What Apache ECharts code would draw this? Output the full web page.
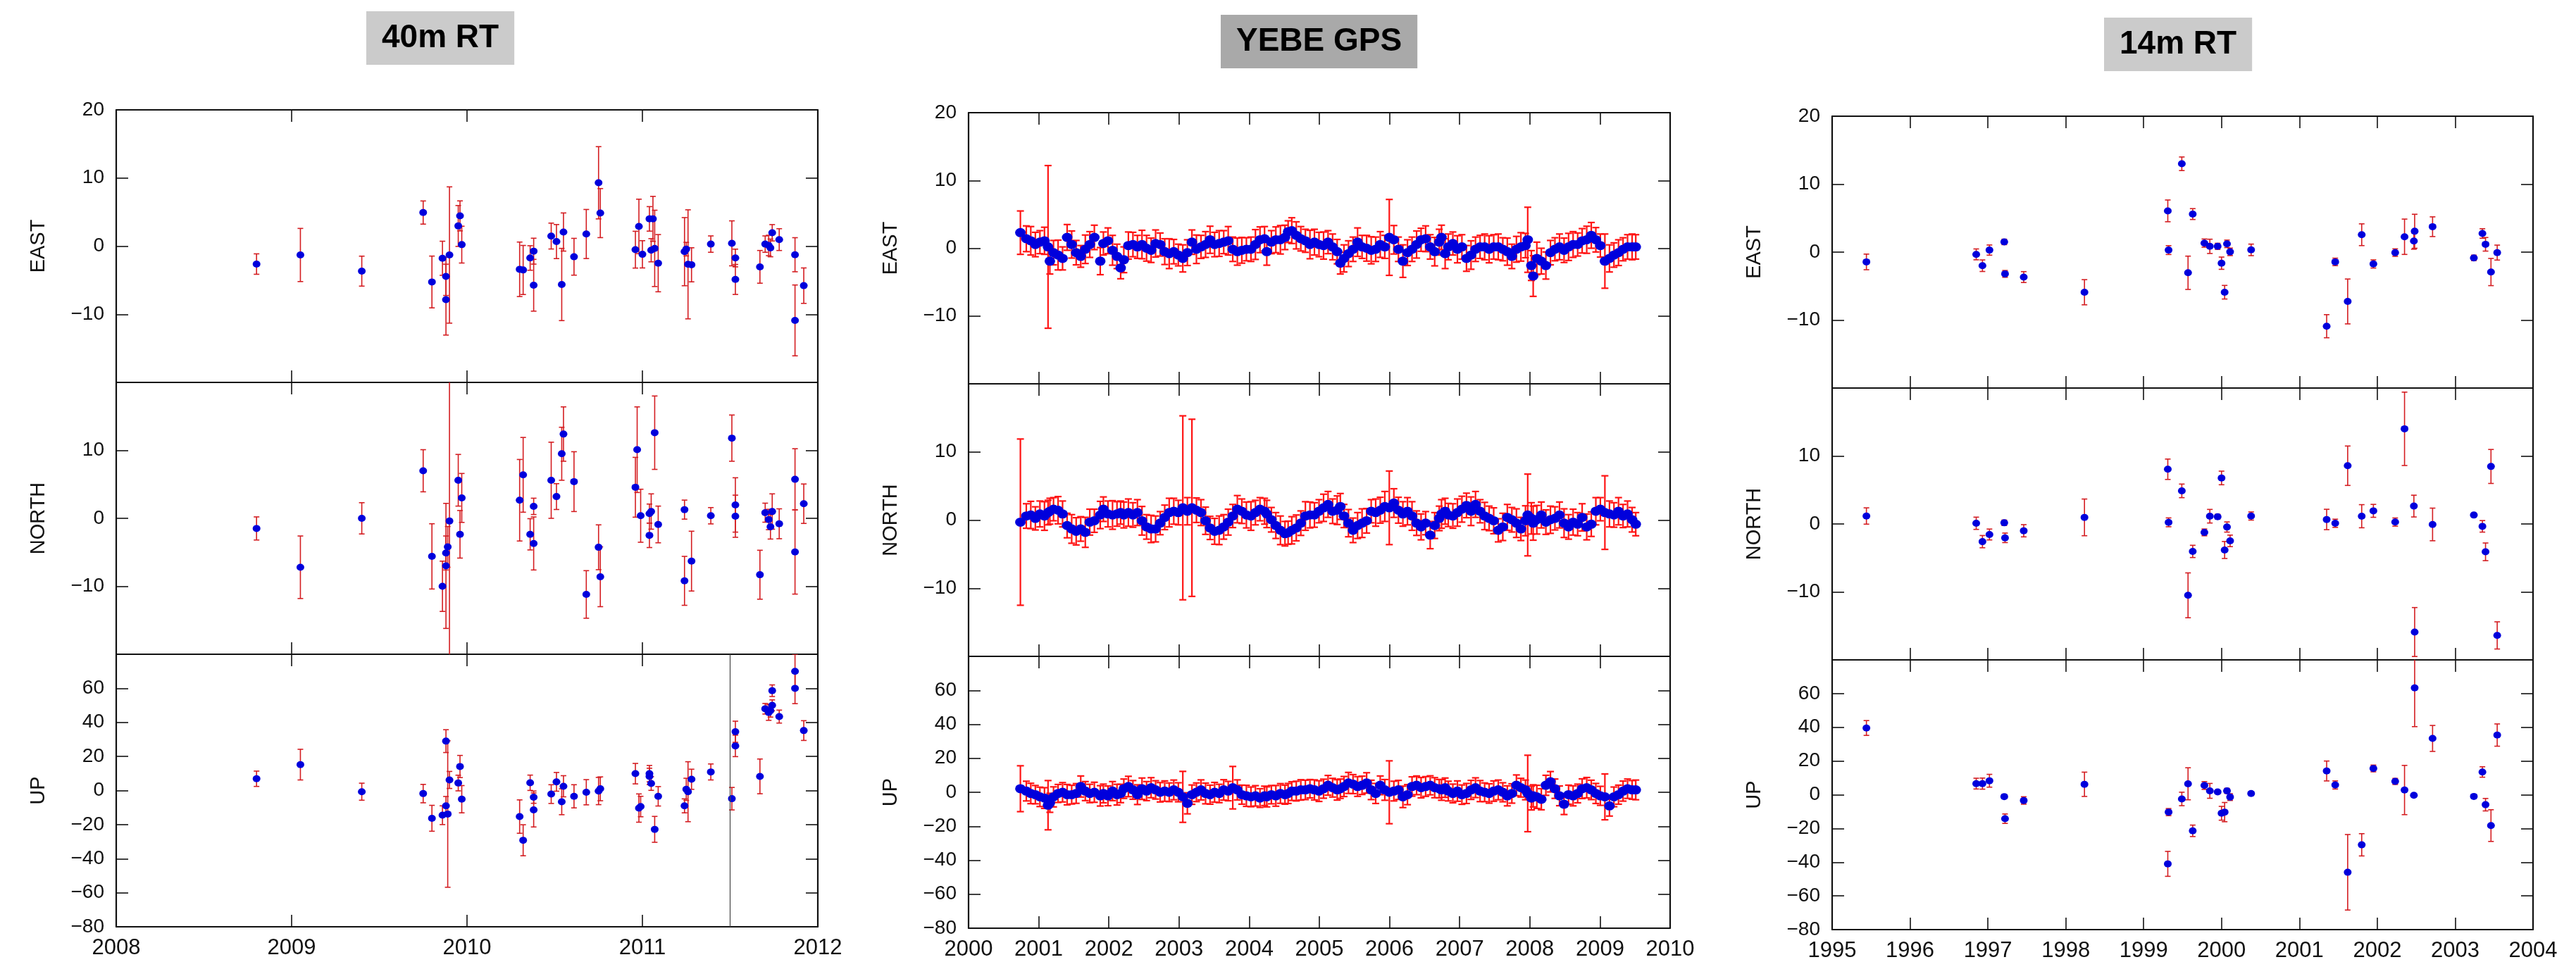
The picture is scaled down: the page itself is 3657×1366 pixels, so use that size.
<!DOCTYPE html>
<html><head><meta charset="utf-8">
<script src="https://cdn.jsdelivr.net/npm/echarts@6.0.0/dist/echarts.min.js"></script>
<style>html,body{margin:0;padding:0;background:#fff}#c{width:3657px;height:1366px}</style>
</head><body><div id="c"></div>
<script>
// ---------------- DATA ----------------
// Column titles
const columnTitles = ['40m RT', 'YEBE GPS', '14m RT'];
const componentNames = ['EAST', 'NORTH', 'UP'];
// x-axis ranges (years)
const rt40Years = [2008, 2012];
const gpsYears = [2000, 2010];
const rt14Years = [1995, 2004];
// y-axis ranges
const horizRange = [-20, 20, 10];
const upRange = [-80, 80, 20];
const rt40UpMarkerYear = 2011.5;

// 40m RT: [year, value, error]
const rt40East = [
[2008.80,-2.63,1.5],[2009.05,-1.3,3.9],[2009.40,-3.67,2.2],[2009.75,4.93,1.7],[2009.80,-5.26,3.8],
[2009.86,-1.78,2.5],[2009.88,-4.44,2.8],[2009.88,-7.85,5.2],[2009.90,-1.3,10],[2009.95,2.96,3],
[2009.96,4.44,2.2],[2009.97,0.22,2.7],[2010.30,-3.4,4],[2010.32,-3.5,3.6],[2010.36,-1.74,1.8],
[2010.38,-5.74,3.8],[2010.38,-0.74,1.9],[2010.48,1.48,1.9],[2010.51,0.67,2.5],[2010.54,-5.63,5.3],
[2010.55,2.07,2.8],[2010.61,-1.56,2.7],[2010.68,1.78,3.6],[2010.75,9.3,5.3],[2010.76,4.85,3.6],
[2010.96,-0.52,2.7],[2010.98,2.89,4],[2011.00,-1.2,2],[2011.04,4.0,1.8],[2011.06,4.0,3.3],
[2011.05,-0.6,1.7],[2011.07,-0.33,5.6],[2011.09,-2.5,4.2],[2011.24,-0.81,5],[2011.25,-0.44,1],
[2011.26,-2.67,8],[2011.28,-2.74,2.5],[2011.39,0.3,1.2],[2011.51,0.41,3.3],[2011.53,-1.74,1.3],
[2011.53,-4.89,2.2],[2011.67,-3.04,2.4],[2011.70,0.3,1.2],[2011.72,0.1,1.5],[2011.73,-0.26,1.3],
[2011.74,1.96,1.2],[2011.78,0.96,1.6],[2011.87,-1.26,2.5],[2011.87,-10.9,5.2],[2011.92,-5.8,2.6]
];
const rt40North = [
[2008.80,-1.49,1.7],[2009.05,-7.2,4.6],[2009.40,0,2.3],[2009.75,7.0,3.1],[2009.80,-5.6,4.8],
[2009.86,-10.0,3.7],[2009.88,-5.1,2.5],[2009.88,-7.0,9.2],[2009.89,-4.2,3],[2009.90,-0.4,25],
[2009.95,5.6,3.8],[2009.96,-2.35,3.5],[2009.97,3.0,3.6],[2010.30,2.66,6],[2010.32,6.4,5.5],
[2010.36,-2.35,2.3],[2010.38,-3.7,3.9],[2010.38,1.76,1.2],[2010.48,5.6,5.6],[2010.51,3.2,1.9],
[2010.54,9.5,3.9],[2010.55,12.4,4],[2010.61,5.4,4.4],[2010.68,-11.2,3.5],[2010.75,-4.26,3.3],
[2010.76,-8.6,4.4],[2010.96,4.57,4.4],[2010.97,10.1,6.3],[2010.99,0.38,3.9],[2011.04,0.7,1.4],
[2011.04,-2.5,1.8],[2011.05,1.0,2.6],[2011.07,12.6,5.4],[2011.09,-0.9,2.7],[2011.24,1.28,1.4],
[2011.24,-9.2,3.6],[2011.28,-6.3,4.4],[2011.39,0.38,1.2],[2011.51,11.8,3.4],[2011.53,1.97,4],
[2011.53,0.31,3.1],[2011.67,-8.3,3.6],[2011.70,0.83,1.4],[2011.72,-0.17,1.5],[2011.73,-1.25,1.8],
[2011.74,1.0,2.6],[2011.78,-0.8,2.2],[2011.87,5.74,4.5],[2011.87,-4.95,6.2],[2011.92,2.15,2.9]
];
const rt40Up = [
[2008.80,6.9,4.5],[2009.05,15.2,9],[2009.40,-0.7,5],[2009.75,-1.8,5.4],[2009.80,-16.3,7.6],
[2009.86,-14.5,5.5],[2009.88,-9.0,5.5],[2009.88,29,6.7],[2009.89,-13.8,43],[2009.90,6.2,5],
[2009.95,4.4,4.6],[2009.96,14.1,6.5],[2009.97,-5.1,8],[2010.30,-15.3,9.8],[2010.32,-29.2,9.1],
[2010.36,4.55,4.5],[2010.38,-3.9,3.6],[2010.38,-11.4,10],[2010.48,-2.1,5.5],[2010.51,5.1,5.5],
[2010.54,-6.6,7.6],[2010.55,2.5,6.2],[2010.61,-3.4,6.8],[2010.68,-1.0,7.4],[2010.75,-0.3,8],
[2010.76,1.0,7],[2010.96,9.9,6],[2010.98,-10.3,8.3],[2010.99,-9.4,6],[2011.04,9.9,4.8],
[2011.04,8.3,4.8],[2011.05,4.1,4],[2011.07,-22.8,7.6],[2011.09,-3.4,5.7],[2011.24,-9.0,4.1],
[2011.25,0.7,6.5],[2011.26,-0.7,17.6],[2011.28,6.6,5.9],[2011.39,10.9,4.7],[2011.51,-4.8,6.6],
[2011.53,26.2,6.3],[2011.53,34.5,6.2],[2011.67,8.3,10.2],[2011.70,48,3.1],[2011.72,45.8,4.6],
[2011.73,46.9,3.8],[2011.74,58.6,3.4],[2011.74,50,3.2],[2011.78,43.4,3.8],[2011.87,70,10],
[2011.87,60,9],[2011.92,35.2,5.8]
];

// YEBE GPS: shared epochs, values and errors per component
const gpsT = [
2000.739,2000.823,2000.887,2000.952,2001.017,2001.082,2001.133,2001.159,2001.211,2001.276,
2001.340,2001.405,2001.470,2001.534,2001.599,2001.664,2001.728,2001.793,2001.877,2001.922,
2001.987,2002.052,2002.116,2002.168,2002.213,2002.278,2002.343,2002.407,2002.472,2002.537,
2002.602,2002.666,2002.731,2002.796,2002.860,2002.925,2002.990,2003.054,2003.119,2003.184,
2003.248,2003.313,2003.378,2003.442,2003.507,2003.572,2003.637,2003.701,2003.766,2003.831,
2003.895,2003.960,2004.025,2004.089,2004.154,2004.219,2004.251,2004.316,2004.380,2004.445,
2004.510,2004.555,2004.607,2004.671,2004.736,2004.801,2004.866,2004.930,2004.995,2005.060,
2005.124,2005.189,2005.254,2005.299,2005.351,2005.415,2005.480,2005.545,2005.609,2005.674,
2005.739,2005.803,2005.868,2005.933,2005.997,2006.062,2006.127,2006.191,2006.256,2006.321,
2006.386,2006.450,2006.515,2006.580,2006.644,2006.709,2006.741,2006.793,2006.838,2006.903,
2006.968,2007.032,2007.097,2007.162,2007.226,2007.291,2007.356,2007.420,2007.485,2007.550,
2007.615,2007.679,2007.744,2007.809,2007.873,2007.938,2007.970,2008.022,2008.048,2008.100,
2008.164,2008.229,2008.294,2008.358,2008.423,2008.488,2008.552,2008.617,2008.682,2008.746,
2008.811,2008.876,2008.941,2009.005,2009.070,2009.135,2009.199,2009.264,2009.329,2009.393,
2009.458,2009.510
];
const gpsEast = [
2.3,1.4,1.1,0.55,0.9,1.1,0.2,-1.9,-0.65,-1.0,
-1.5,1.6,0.55,-0.65,-1.2,-0.15,0.55,1.6,-1.9,0.7,
1.1,-0.3,-1.2,-2.9,-1.7,0.4,0.55,0.2,0.55,0,
-0.3,0.7,0.55,-0.5,-0.8,-0.5,-1.0,-1.5,-0.65,0.9,
-0.15,0.2,0.55,1.25,0.55,0.7,0.9,1.1,-0.15,-0.5,
-0.3,-0.15,-0.15,0.55,1.25,1.4,-0.5,0.9,1.25,1.25,
1.6,2.45,2.6,1.9,1.4,1.1,0.55,0.9,0.55,0.4,
0.9,0.2,-0.5,-2.2,-1.5,-0.8,-0.15,0.9,0.2,0,
-0.3,-0.15,0.55,0.2,1.6,1.25,-0.15,-1.9,-0.65,-0.15,
0.55,1.25,1.4,0.2,-0.5,0.9,1.6,-0.8,0.2,0.7,
-0.15,0.2,-1.5,-1.0,-0.15,0.2,0.2,-0.15,0.2,0.2,
-0.15,-0.5,-1.2,-0.15,0.2,0.4,1.25,-2.55,-4.1,-1.5,
-1.9,-2.55,-0.65,-0.15,0.2,-0.3,0.2,0.55,0.55,1.1,
1.25,1.9,1.25,0.4,-1.9,-1.5,-1.0,-0.65,-0.15,0.2,
0.2,0.2
];
const gpsNorth = [
-0.3,0.6,0.75,0.25,0.9,0.6,1.1,1.3,1.6,1.45,
0.9,-0.8,-1.3,-1.65,-1.3,-1.8,-0.3,-0.1,0.75,1.6,
0.9,0.75,0.9,1.1,0.75,1.1,0.75,1.1,-0.1,-1.0,
-1.3,-1.3,-0.45,0.4,1.1,1.3,1.1,1.8,1.3,1.8,
1.45,1.1,-0.1,-1.15,-1.65,-1.5,-1.0,-0.3,0.6,1.6,
1.3,0.75,0.6,1.1,1.6,1.3,0.9,0.05,-0.8,-1.5,
-2.0,-1.85,-1.5,-1.15,-0.45,0.6,0.75,0.75,1.3,1.8,
2.3,1.3,1.45,2.0,0.6,-0.45,-1.5,-0.8,-0.45,-0.1,
1.3,1.1,1.45,2.0,1.8,2.5,1.45,0.9,1.3,0.6,
-0.45,-1.0,-0.45,-2.2,-0.8,0.25,0.9,1.3,0.75,0.6,
1.1,1.6,2.15,1.3,2.3,1.3,0.6,0.25,-0.1,-1.5,
-1.0,0.4,0.05,-0.45,-1.3,-0.1,0.75,0.25,-0.45,0.05,
0.75,-0.3,0.05,0.25,0.75,-0.45,-1.0,-0.3,-0.6,0.4,
-1.0,-0.6,1.3,1.6,1.1,0.9,0.75,1.3,0.6,0.9,
0.05,-0.6
];
const gpsUp = [
2.1,0.7,-0.7,-1.4,-2.7,-3.4,-7.6,-6.2,-2.7,-0.7,
0,-1.4,-1.4,-0.7,3.4,0.7,-0.7,0,-2.1,-0.7,
-2.1,0.7,-1.4,-0.7,2.1,3.4,1.4,-1.4,2.1,0.7,
2.7,1.4,0,0.7,0,1.4,0,-2.7,-6.5,-1.4,
0,1.4,-0.7,-1.4,0,-0.7,1.4,0.7,2.7,1.4,
-1.4,-2.1,-2.7,-2.1,-3.4,-2.1,-2.7,-1.4,-2.1,-0.7,
-1.4,-0.7,0.7,0.7,1.4,1.4,2.1,1.4,0.7,2.1,
4.1,2.7,1.4,2.1,3.4,5.5,4.8,3.4,4.1,5.5,
1.4,-0.7,4.1,1.4,0,0.7,1.4,-2.7,-1.4,3.4,
4.1,2.7,3.4,4.1,2.7,2.1,1.4,2.7,0.7,-0.7,
0.7,-1.4,-0.7,1.4,2.7,0.7,0,-0.7,0.7,1.4,
0,-2.1,-0.7,4.1,2.7,1.4,-0.7,-3.4,-2.1,-2.7,
-4.1,4.1,6.2,2.1,-2.1,-7,-1.4,-2.1,-0.7,2.1,
2.7,1.4,-0.7,-2.1,-2.7,-8,-2.7,-1.4,0.7,2.1,
1.4,1.4
];
const gpsEastErr = [
3.2,1.9,2.1,1.8,1.7,2.0,12,1.9,1.8,2.2,
1.7,1.9,2.0,1.8,1.6,2.1,1.9,1.8,2.0,1.7,
1.9,2.2,1.8,1.6,1.9,2.0,1.8,1.7,2.1,1.9,
1.8,2.0,1.7,1.9,2.2,1.8,1.6,2.0,1.9,1.8,
2.1,1.7,1.9,2.0,1.8,1.9,1.7,2.1,1.8,2.0,
1.9,1.7,1.8,2.2,1.9,1.8,2.0,1.7,1.9,2.1,
1.8,1.6,1.9,2.0,1.8,1.7,2.1,1.9,1.8,2.0,
1.7,1.9,1.8,1.6,2.0,1.9,1.8,2.1,1.7,1.9,
2.0,1.8,1.9,1.7,5.6,2.1,1.8,2.4,1.9,1.8,
2.0,1.7,1.9,1.8,2.1,1.9,1.8,2.2,1.9,1.7,
2.0,1.8,1.9,2.1,1.8,1.7,1.9,2.0,1.8,1.9,
1.7,2.0,1.8,1.9,2.1,1.8,4.8,2.2,3.0,2.4,
1.9,2.0,1.8,1.7,1.9,1.8,2.0,1.9,1.7,1.8,
2.0,1.9,1.8,1.7,4.0,2.0,1.8,1.9,1.7,1.8,
1.9,1.8
];
const gpsNorthErr = [
12.2,1.8,2.0,1.7,1.9,2.1,1.8,1.9,1.7,2.0,
1.9,1.8,2.1,2.0,1.8,2.2,1.9,1.7,2.0,1.8,
1.9,2.1,1.8,1.7,1.9,2.0,1.8,1.9,2.1,1.8,
2.0,1.9,1.7,1.8,2.1,1.9,1.8,13.5,2.0,13.0,
1.8,1.9,2.0,1.7,1.9,2.1,1.8,1.9,1.7,2.0,
1.8,1.9,2.1,1.8,1.7,1.9,2.0,1.8,1.9,2.1,
1.8,1.7,2.0,1.9,1.8,2.1,1.9,1.8,1.7,2.0,
1.9,1.8,2.1,1.9,1.7,2.0,1.8,1.9,2.1,1.8,
1.7,2.0,1.9,2.2,5.4,2.1,1.9,1.8,2.0,2.1,
1.8,1.9,1.7,2.0,1.9,1.8,2.1,1.9,1.7,1.8,
2.0,1.9,1.8,2.1,1.9,1.7,2.0,1.8,1.9,1.7,
2.0,1.9,1.8,2.1,1.7,2.2,6.0,2.3,2.5,2.1,
1.9,1.8,2.0,1.7,1.9,2.1,1.8,1.9,1.7,2.0,
1.9,1.8,2.0,1.7,5.4,1.9,1.8,2.0,1.7,1.9,
1.8,1.7
];
const gpsUpErr = [
13.5,5.8,6.0,5.4,5.7,6.1,14.5,5.6,5.9,5.3,
5.7,6.0,5.5,5.8,6.2,5.6,5.4,5.9,6.0,5.5,
5.8,5.6,6.1,5.4,5.7,6.0,5.5,5.8,6.3,5.6,
5.9,5.4,5.7,6.0,5.5,5.8,5.6,15.0,6.2,5.7,
5.5,5.9,6.1,5.6,5.8,5.4,6.0,5.7,12.5,5.9,
5.6,6.2,5.8,6.0,5.5,5.7,5.9,5.4,6.1,5.8,
5.6,5.9,5.5,5.8,6.0,5.7,5.4,5.9,6.1,5.6,
5.8,5.5,6.0,5.7,5.9,6.2,5.6,5.8,5.4,6.0,
5.7,5.9,5.5,6.1,18.5,5.8,5.6,6.3,5.9,5.7,
5.5,6.0,5.8,5.6,5.9,5.4,6.1,5.7,5.8,5.5,
6.0,5.7,5.9,5.6,5.8,6.2,5.5,5.7,6.0,5.8,
5.6,5.9,5.7,6.1,5.5,5.8,22.5,7.0,6.5,6.8,
6.2,5.9,6.0,5.7,5.8,6.1,5.6,5.9,5.5,5.8,
6.0,5.7,5.9,5.6,13.5,6.0,5.8,5.6,5.9,5.7,
5.5,5.8
];

// 14m RT: [year, value, error]
const rt14East = [
[1995.44,-1.44,1.15],[1996.85,-0.33,0.8],[1996.93,-2.0,0.85],[1997.02,0.3,0.75],[1997.21,1.5,0.4],
[1997.22,-3.2,0.5],[1997.46,-3.67,0.8],[1998.24,-5.9,1.85],[1999.31,6.07,1.6],[1999.32,0.3,0.65],
[1999.49,13.0,1.0],[1999.57,-3.04,2.45],[1999.63,5.6,0.8],[1999.78,1.33,0.6],[1999.85,0.85,1.05],
[1999.95,0.85,0.45],[2000.00,-1.63,0.9],[2000.04,-5.9,1.0],[2000.07,1.22,0.55],[2000.11,0.04,0.55],
[2000.38,0.33,0.85],[2001.35,-10.9,1.7],[2001.46,-1.44,0.55],[2001.62,-7.26,3.3],[2001.80,2.56,1.6],
[2001.95,-1.74,0.6],[2002.23,-0.07,0.55],[2002.35,2.26,2.6],[2002.47,1.63,1.2],[2002.48,3.07,2.5],
[2002.71,3.74,1.45],[2003.24,-0.85,0.4],[2003.35,2.74,0.7],[2003.39,1.15,1.0],[2003.46,-2.93,2.0],
[2003.54,-0.07,1.1]
];
const rt14North = [
[1995.44,1.17,1.2],[1996.85,0.1,0.9],[1996.93,-2.6,0.9],[1997.02,-1.55,0.8],[1997.21,0.17,0.4],
[1997.22,-2.04,0.7],[1997.46,-1.0,0.9],[1998.24,0.97,2.7],[1999.31,8.05,1.5],[1999.32,0.24,0.65],
[1999.49,4.87,1.0],[1999.57,-10.5,3.3],[1999.63,-4.04,0.9],[1999.78,-1.24,0.5],[1999.85,1.14,1.0],
[1999.95,1.07,0.35],[2000.00,6.77,1.0],[2000.04,-3.83,1.25],[2000.07,-0.45,0.75],[2000.11,-2.49,0.85],
[2000.38,1.17,0.6],[2001.35,0.66,1.5],[2001.46,0.1,0.6],[2001.62,8.57,2.9],[2001.80,1.14,1.7],
[2001.95,1.93,0.95],[2002.23,0.28,0.6],[2002.35,14.0,5.4],[2002.47,2.63,1.6],[2002.48,-15.9,3.6],
[2002.71,-0.07,2.4],[2003.24,1.31,0.3],[2003.35,-0.35,0.85],[2003.39,-4.1,1.3],[2003.46,8.46,2.5],
[2003.54,-16.4,2.0]
];
const rt14Up = [
[1995.44,39.6,4.4],[1996.85,6.6,3.2],[1996.93,6.6,3.3],[1997.02,8.3,3.8],[1997.21,-1.1,1.2],
[1997.22,-14.2,2.8],[1997.46,-3.4,2.2],[1998.24,6.2,7.2],[1999.31,-41,7.4],[1999.32,-10.3,2.1],
[1999.49,-2.5,4],[1999.57,6.5,9.5],[1999.63,-21.4,3.4],[1999.78,5.5,2.3],[1999.85,2.3,4.4],
[1999.95,1.66,1.0],[2000.00,-11,4.1],[2000.04,-10.3,5.7],[2000.07,2.3,1.5],[2000.11,-1.4,2],
[2000.38,0.7,1],[2001.35,14.1,5.9],[2001.46,5.8,2.4],[2001.62,-46,22.4],[2001.80,-29.7,6.6],
[2001.95,15.6,2],[2002.23,7.9,1.8],[2002.35,2.8,14.6],[2002.47,-0.3,0.8],[2002.48,63.4,23],
[2002.71,33.4,7.7],[2003.24,-1.0,1],[2003.35,13.5,3.1],[2003.39,-5.9,3.7],[2003.46,-18.3,9.4],
[2003.54,35.4,6.6]
];

// ---------------- CHART ----------------
const FONT = '"Liberation Sans", Arial, Helvetica, sans-serif';
const grids = [], xAxes = [], yAxes = [], series = [];

function zipGps(vals, errs) { return gpsT.map((t, i) => [t, vals[i], errs[i]]); }

function makeErrRender(color, lw, cap) {
  return function (params, api) {
    const x = api.value(0), v = api.value(1), e = api.value(2);
    const a = api.coord([x, v + e]);
    const b = api.coord([x, v - e]);
    const st = { stroke: color, lineWidth: lw, fill: null };
    return {
      type: 'group',
      children: [
        { type: 'line', shape: { x1: a[0], y1: a[1], x2: b[0], y2: b[1] }, style: st },
        { type: 'line', shape: { x1: a[0] - cap, y1: a[1], x2: a[0] + cap, y2: a[1] }, style: st },
        { type: 'line', shape: { x1: b[0] - cap, y1: b[1], x2: b[0] + cap, y2: b[1] }, style: st }
      ]
    };
  };
}

function fmtY(v) { return String(v).replace('-', '\u2212'); }

function addPanel(o) {
  const gi = grids.length;
  grids.push({ left: o.left, top: o.top, width: o.width, height: o.height, show: false });
  const axisLine = { show: true, onZero: false, lineStyle: { color: '#111', width: 2.2 } };
  const tick = { show: true, inside: true, length: 17, lineStyle: { color: '#111', width: 1.6 } };
  const base = { type: 'value', gridIndex: gi, splitLine: { show: false }, axisLine: axisLine, axisTick: tick };
  xAxes.push(Object.assign({}, base, {
    position: 'bottom', min: o.xr[0], max: o.xr[1], interval: 1,
    axisLabel: o.xLabels ? { show: true, margin: 15, fontSize: 31, color: '#111', fontFamily: FONT, formatter: v => String(v) } : { show: false }
  }));
  xAxes.push(Object.assign({}, base, { position: 'top', min: o.xr[0], max: o.xr[1], interval: 1, axisLabel: { show: false } }));
  yAxes.push(Object.assign({}, base, {
    position: 'left', min: o.yr[0], max: o.yr[1], interval: o.yr[2],
    name: o.name, nameLocation: 'middle', nameGap: 96,
    nameTextStyle: { fontSize: 29, fontFamily: FONT, color: '#111' },
    axisLabel: { show: true, margin: 17, fontSize: 28, color: '#111', fontFamily: FONT,
      formatter: v => (o.hide.indexOf(v) >= 0 ? '' : fmtY(v)) }
  }));
  yAxes.push(Object.assign({}, base, { position: 'right', min: o.yr[0], max: o.yr[1], interval: o.yr[2], axisLabel: { show: false } }));

  series.push({
    type: 'custom', xAxisIndex: 2 * gi, yAxisIndex: 2 * gi, clip: true, silent: true,
    renderItem: makeErrRender(o.errColor, o.errWidth, o.cap),
    data: o.data, encode: { x: 0, y: 1 }, z: 2
  });
  const sc = {
    type: 'scatter', xAxisIndex: 2 * gi, yAxisIndex: 2 * gi, clip: true, silent: true,
    data: o.data.map(d => [d[0], d[1]]), symbol: 'circle', symbolSize: o.sym,
    itemStyle: { color: '#0000dc', opacity: 1 }, z: 3
  };
  if (o.vline != null) {
    sc.markLine = { silent: true, symbol: ['none', 'none'], label: { show: false },
      lineStyle: { color: '#444', width: 1.2, type: 'solid' }, data: [{ xAxis: o.vline }] };
  }
  series.push(sc);
}

const SP = { errColor: '#d41e22', errWidth: 1.6, cap: 4, sym: [11, 10] };
const GP = { errColor: '#ff1414', errWidth: 2.2, cap: 5, sym: [15, 13] };
function P(o, style) { addPanel(Object.assign({}, style, o)); }
// Left column: 40m RT
P({ left: 165, top: 156, width: 996, height: 387, xr: rt40Years, yr: horizRange, name: componentNames[0], hide: [-20], data: rt40East }, SP);
P({ left: 165, top: 543, width: 996, height: 386, xr: rt40Years, yr: horizRange, name: componentNames[1], hide: [-20, 20], data: rt40North }, SP);
P({ left: 165, top: 929, width: 996, height: 387, xr: rt40Years, yr: upRange, name: componentNames[2], hide: [80], data: rt40Up, xLabels: true, vline: rt40UpMarkerYear }, SP);
// Middle column: YEBE GPS
P({ left: 1375, top: 160, width: 996, height: 385, xr: gpsYears, yr: horizRange, name: componentNames[0], hide: [-20], data: zipGps(gpsEast, gpsEastErr) }, GP);
P({ left: 1375, top: 545, width: 996, height: 387, xr: gpsYears, yr: horizRange, name: componentNames[1], hide: [-20, 20], data: zipGps(gpsNorth, gpsNorthErr) }, GP);
P({ left: 1375, top: 932, width: 996, height: 386, xr: gpsYears, yr: upRange, name: componentNames[2], hide: [80], data: zipGps(gpsUp, gpsUpErr), xLabels: true }, GP);
// Right column: 14m RT
P({ left: 2601, top: 165, width: 995, height: 386, xr: rt14Years, yr: horizRange, name: componentNames[0], hide: [-20], data: rt14East }, SP);
P({ left: 2601, top: 551, width: 995, height: 386, xr: rt14Years, yr: horizRange, name: componentNames[1], hide: [-20, 20], data: rt14North }, SP);
P({ left: 2601, top: 937, width: 995, height: 387, xr: rt14Years, yr: upRange, name: componentNames[2], hide: [80], data: rt14Up, xLabels: true }, SP);

const titleStyle = { fontSize: 46, fontWeight: 'bold', fontFamily: FONT, color: '#000', lineHeight: 48 };
const titles = [
  { text: columnTitles[0], left: 520, top: 16, padding: [14, 22], backgroundColor: '#cbcbcb', textStyle: titleStyle },
  { text: columnTitles[1], left: 1733, top: 21, padding: [14, 22], backgroundColor: '#a9a9a9', textStyle: titleStyle },
  { text: columnTitles[2], left: 2987, top: 25, padding: [14, 22], backgroundColor: '#cbcbcb', textStyle: titleStyle }
];

const chart = echarts.init(document.getElementById('c'), null, { renderer: 'canvas' });
chart.setOption({
  backgroundColor: '#ffffff',
  animation: false,
  title: titles,
  grid: grids,
  xAxis: xAxes,
  yAxis: yAxes,
  series: series
});
</script>
</body></html>
